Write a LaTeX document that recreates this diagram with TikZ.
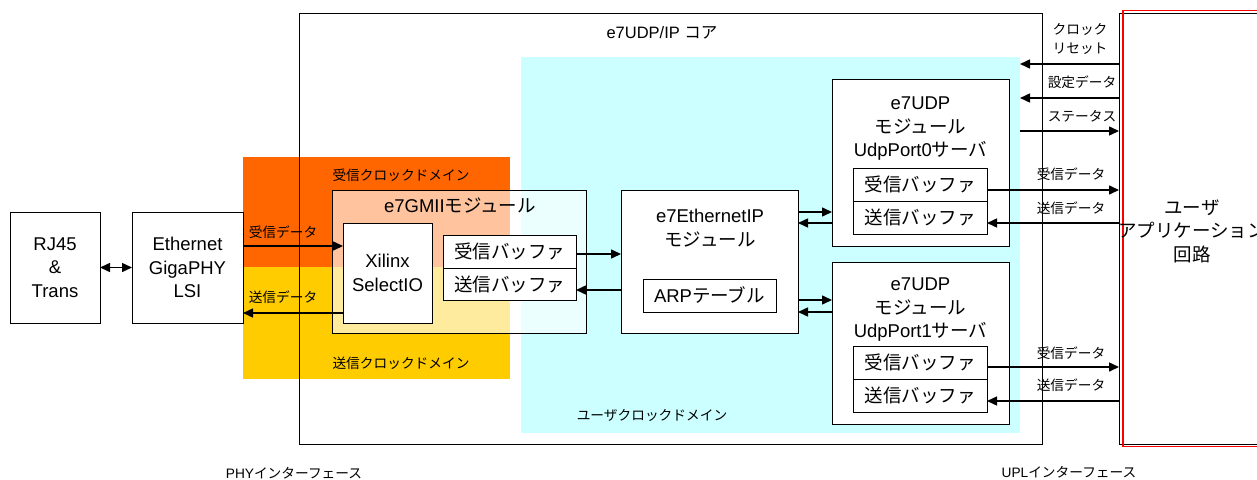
\documentclass[tikz,border=0pt]{standalone}
\usepackage{fontspec}
\setmainfont{Liberation Sans}
\newfontfamily\jp{Noto Sans CJK JP}
\usetikzlibrary{arrows.meta}
\definecolor{cbg}{HTML}{CCFFFF}
\definecolor{obg}{HTML}{FF6600}
\definecolor{ybg}{HTML}{FFCC00}
\definecolor{appred}{HTML}{FF0000}
\newcommand\fbig{\fontsize{18.5}{23.5}\selectfont}
\newcommand\fsmall{\fontsize{13.7}{18.5}\selectfont}
\newcommand\ftitle{\fontsize{16.5}{20}\selectfont}
\tikzset{
  box/.style={draw=black, line width=0.9pt, fill=white, inner sep=0pt, outer sep=0pt, align=center, font=\fbig},
  region/.style={inner sep=0pt, outer sep=0pt},
  lbl/.style={font=\fsmall, inner sep=0pt, align=center},
  txt/.style={font=\fbig, inner sep=0pt, align=center},
  arr/.style={line width=1.5pt, -{Triangle[length=10pt,width=9pt]}},
  darr/.style={line width=1.5pt, {Triangle[length=10pt,width=9pt]}-{Triangle[length=10pt,width=9pt]}}
}
\begin{document}
\begin{tikzpicture}[x=1pt,y=-1pt]
\useasboundingbox (0,0) rectangle (1257,479);
\clip (0,0) rectangle (1257,479);
% background regions
\node (cyan) [region, fill=cbg, minimum width=499pt, minimum height=376pt] at (770.5,245) {};
\node (orng) [region, fill=obg, minimum width=267pt, minimum height=110pt] at (376.5,212) {};
\node (yllw) [region, fill=ybg, minimum width=267pt, minimum height=112pt] at (376.5,323) {};
% core
\node (core) [draw=black, line width=0.9pt, region, minimum width=743pt, minimum height=431pt] at (670.5,228.5) {};
\node (coret) [font=\ftitle, inner sep=0pt] at (662,33) {e7UDP/IP {\jp コア}};
\node (uclk) [lbl] at (652,415) {\jp ユーザクロックドメイン};
\node (rclk) [lbl] at (401,175) {\jp 受信クロックドメイン};
\node (tclk) [lbl] at (401,363) {\jp 送信クロックドメイン};
% left blocks
\node (rj) [box, minimum width=90pt, minimum height=111pt] at (55,267.5) {RJ45\\\&\\Trans};
\node (eth) [box, minimum width=111pt, minimum height=111pt] at (187.5,267.5) {Ethernet\\GigaPHY\\LSI};
% GMII
\node (gmii) [box, fill opacity=0.62, text opacity=1, minimum width=254pt, minimum height=143pt] at (459,261.5) {};
\node (gmiit) [txt] at (460,205) {e7GMII{\jp モジュール}};
\node (xil) [box, minimum width=89pt, minimum height=100pt] at (387.5,273) {Xilinx\\SelectIO};
\node (grx) [box, minimum width=133pt, minimum height=33pt] at (509.5,251.5) {\jp 受信バッファ};
\node (gtx) [box, minimum width=133pt, minimum height=32pt] at (509.5,284) {\jp 送信バッファ};
% EthernetIP
\node (eip) [box, minimum width=177pt, minimum height=143pt] at (709.5,261.5) {};
\node (eipt) [txt] at (710,228) {e7EthernetIP\\{\jp モジュール}};
\node (arp) [box, minimum width=133pt, minimum height=33pt] at (709.5,295.5) {ARP{\jp テーブル}};
% UDP0
\node (u0) [box, minimum width=177pt, minimum height=167pt] at (920.5,162.5) {};
\node (u0t) [txt] at (920.5,129) {e7UDP\\{\jp モジュール}\\UdpPort0{\jp サーバ}};
\node (u0rx) [box, minimum width=134pt, minimum height=33pt] at (920,184.5) {\jp 受信バッファ};
\node (u0tx) [box, minimum width=134pt, minimum height=33pt] at (920,217.5) {\jp 送信バッファ};
% UDP1
\node (u1) [box, minimum width=177pt, minimum height=162pt] at (920.5,343) {};
\node (u1t) [txt] at (920.5,310) {e7UDP\\{\jp モジュール}\\UdpPort1{\jp サーバ}};
\node (u1rx) [box, minimum width=134pt, minimum height=33pt] at (920,362.5) {\jp 受信バッファ};
\node (u1tx) [box, minimum width=134pt, minimum height=33pt] at (920,395.5) {\jp 送信バッファ};
% user app
\node (app) [box, minimum width=211pt, minimum height=431pt] at (1224.5,228.5) {};
\node (appr) [draw=appred, line width=1.6pt, inner sep=0pt, outer sep=0pt, minimum width=208pt, minimum height=436pt] at (1227,228.5) {};
\node (appt) [txt] at (1192,231) {\jp ユーザ\\\jp アプリケーション\\\jp 回路};
% free ends
\coordinate (ck) at (1020,64);
\coordinate (cfg) at (1020,98);
\coordinate (st) at (1020,131);
% connectors
\draw[darr] (rj.east) -- (eth.west);
\draw[arr] (eth.east |- 0,246) -- (xil.west |- 0,246);
\draw[arr] (xil.west |- 0,313) -- (eth.east |- 0,313);
\draw[arr] (grx.east |- 0,254) -- (eip.west |- 0,254);
\draw[arr] (eip.west |- 0,290) -- (gtx.east |- 0,290);
\draw[arr] (eip.east |- 0,212) -- (u0.west |- 0,212);
\draw[arr] (u0.west |- 0,223) -- (eip.east |- 0,223);
\draw[arr] (eip.east |- 0,300) -- (u1.west |- 0,300);
\draw[arr] (u1.west |- 0,312) -- (eip.east |- 0,312);
\draw[arr] (app.west |- ck) -- (ck);
\draw[arr] (app.west |- cfg) -- (cfg);
\draw[arr] (st) -- (app.west |- st);
\draw[arr] (u0rx.east |- 0,190) -- (app.west |- 0,190);
\draw[arr] (app.west |- 0,223) -- (u0tx.east |- 0,223);
\draw[arr] (u1rx.east |- 0,367) -- (app.west |- 0,367);
\draw[arr] (app.west |- 0,401) -- (u1tx.east |- 0,401);
% labels
\node (l1) [lbl] at (283,232) {\jp 受信データ};
\node (l2) [lbl] at (283,297) {\jp 送信データ};
\node (l3) [lbl] at (1080,39) {\jp クロック\\\jp リセット};
\node (l4) [lbl] at (1082,82) {\jp 設定データ};
\node (l5) [lbl] at (1082,116) {\jp ステータス};
\node (l6) [lbl] at (1071,174) {\jp 受信データ};
\node (l7) [lbl] at (1071,208) {\jp 送信データ};
\node (l8) [lbl] at (1071,353) {\jp 受信データ};
\node (l9) [lbl] at (1071,385) {\jp 送信データ};
\node (phy) [lbl] at (294,473) {PHY{\jp インターフェース}};
\node (upl) [lbl] at (1069,472) {UPL{\jp インターフェース}};
\end{tikzpicture}
\end{document}
